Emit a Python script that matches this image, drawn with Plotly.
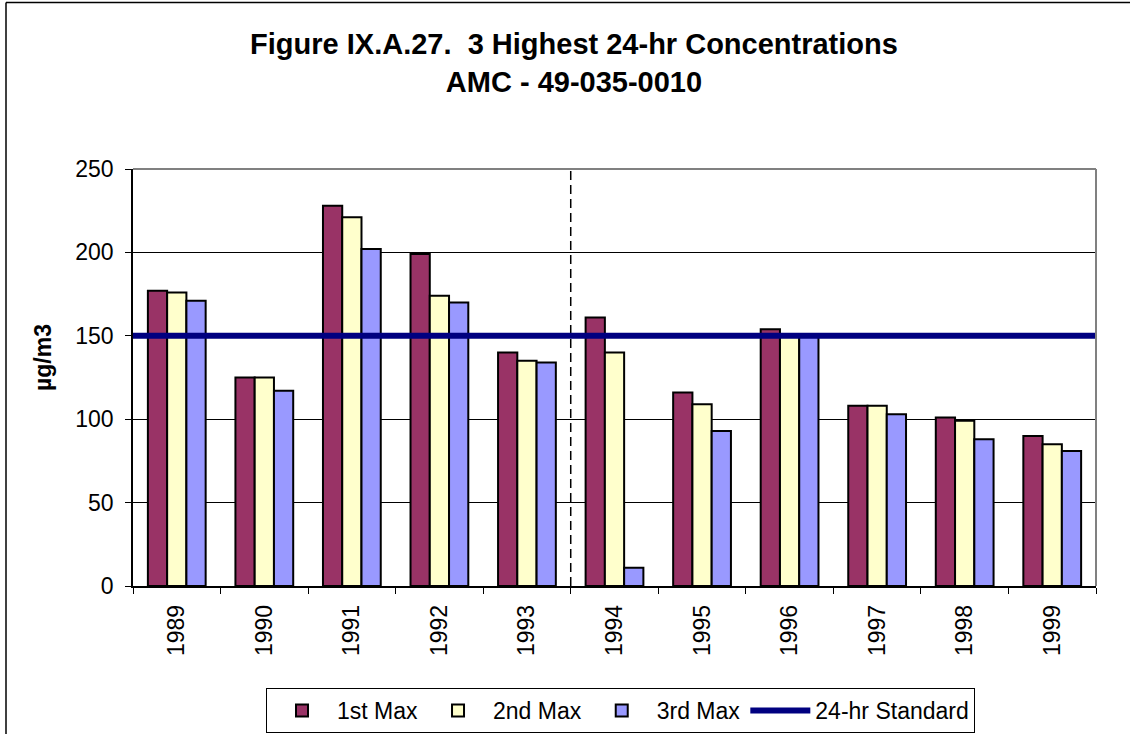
import plotly.graph_objects as go

years = ["1989", "1990", "1991", "1992", "1993", "1994", "1995", "1996", "1997", "1998", "1999"]
max1 = [177, 125, 228, 199, 140, 161, 116, 154, 108, 101, 90]
max2 = [176, 125, 221, 174, 135, 140, 109, 150, 108, 99, 85]
max3 = [171, 117, 202, 170, 134, 11, 93, 150, 103, 88, 81]
standard = 150
y_ticks = [0, 50, 100, 150, 200, 250]

FONT = "Arial, 'Liberation Sans', sans-serif"
W, H = 1130, 734
# plot area in page pixels: x 133..1096, y 169..586
L, R, T, B = 133, W - 1096, 169, H - 586
pw, ph = W - L - R, H - T - B


def px_x(p):  # page px -> paper x
    return (p - L) / pw


def px_y(p):  # page px -> paper y
    return (H - B - p) / ph


fig = go.Figure()
for name, vals, col in [("1st Max", max1, "#993366"),
                        ("2nd Max", max2, "#FFFFCC"),
                        ("3rd Max", max3, "#9999FF")]:
    fig.add_trace(go.Bar(x=years, y=vals, name=name,
                         marker=dict(color=col, line=dict(color="#000000", width=2))))

fig.add_trace(go.Scatter(x=[0, 1], y=[standard, standard], xaxis="x2", mode="lines",
                         name="24-hr Standard",
                         line=dict(color="#000080", width=6)))

shapes = [
    dict(type="line", xref="x", yref="paper", x0=4.5, x1=4.5, y0=0, y1=1,
         line=dict(color="#000000", width=1.5, dash="9px,5px"), layer="below"),
    dict(type="line", xref="paper", yref="paper", x0=0, x1=1, y0=1, y1=1,
         line=dict(color="#808080", width=2)),
    dict(type="line", xref="paper", yref="paper", x0=1, x1=1, y0=0, y1=1,
         line=dict(color="#808080", width=2)),
    # outer chart frame (left and top edges; right/bottom fall outside the picture)
    dict(type="line", xref="paper", yref="paper",
         x0=px_x(6), x1=px_x(6), y0=px_y(2.5), y1=px_y(740),
         line=dict(color="#000000", width=1.5)),
    dict(type="line", xref="paper", yref="paper",
         x0=px_x(6), x1=px_x(1135), y0=px_y(2.5), y1=px_y(2.5),
         line=dict(color="#000000", width=1.5)),
]

fig.update_layout(
    width=W, height=H,
    margin=dict(l=L, r=R, t=T, b=B, autoexpand=False),
    paper_bgcolor="#FFFFFF", plot_bgcolor="#FFFFFF",
    font=dict(family=FONT, size=23, color="#000000"),
    title=dict(text="Figure IX.A.27.\u00a0\u00a03 Highest 24-hr Concentrations<br>AMC - 49-035-0010",
               font=dict(family=FONT, size=29, color="#000000", weight="bold"),
               x=574 / W, xanchor="center", xref="container",
               y=1 - 54 / H, yanchor="top", yref="container"),
    barmode="group", bargap=0.34, bargroupgap=0,
    showlegend=True,
    legend=dict(orientation="h", x=620.5 / W, xanchor="center", xref="container",
                y=1 - 688 / H, yanchor="top", yref="container",
                bordercolor="#000000", borderwidth=1, bgcolor="#FFFFFF",
                itemwidth=60,
                font=dict(family=FONT, size=23, color="#000000"),
                traceorder="normal"),
    xaxis=dict(type="category", showgrid=False, showline=True, linecolor="#000000", linewidth=1.5,
               ticks="outside", ticklen=6, tickcolor="#000000", tickson="boundaries",
               tickangle=-90, ticklabelstandoff=8, zeroline=False,
               tickfont=dict(family=FONT, size=23, color="#000000")),
    xaxis2=dict(overlaying="x", range=[0, 1], visible=False, fixedrange=True),
    yaxis=dict(range=[0, 250], tickvals=y_ticks, showgrid=True, gridcolor="#000000", gridwidth=1,
               showline=True, linecolor="#000000", linewidth=1.5,
               ticks="outside", ticklen=6, tickcolor="#000000", zeroline=False,
               ticklabelstandoff=7,
               tickfont=dict(family=FONT, size=23, color="#000000")),
    shapes=shapes,
    annotations=[dict(text="<b>µg/m3</b>", xref="paper", yref="paper",
                      x=px_x(43), y=px_y(358), xanchor="center", yanchor="middle",
                      textangle=-90, showarrow=False,
                      font=dict(family=FONT, size=23, color="#000000"))],
)

fig.write_html("out.html",
               config={"displayModeBar": False},
               post_script="document.body.style.margin='0';"
                           "document.body.style.overflow='hidden';"
                           "document.documentElement.style.overflow='hidden';")
